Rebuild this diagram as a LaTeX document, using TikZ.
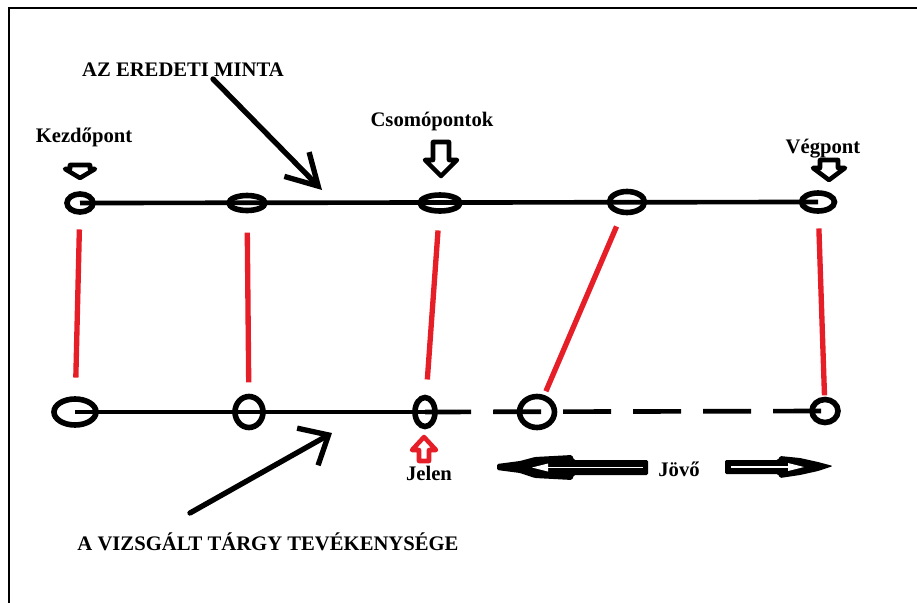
\documentclass[tikz,border=0pt]{standalone}
\usepackage{fontspec}
\setmainfont{Liberation Serif}
\usetikzlibrary{shapes.geometric,arrows.meta}
\definecolor{paintred}{RGB}{230,30,40}

\tikzset{
  ring/.style={ellipse, draw, line width=4.2pt, inner sep=0pt},
  timeline/.style={line width=3.5pt},
  dashline/.style={line width=3.5pt, dash pattern=on 36pt off 16.5pt, dash phase=1.5pt},
  redlink/.style={paintred, line width=4pt},
  pointer/.style={line width=4pt, line cap=round},
  lbl/.style={font=\bfseries\fontsize{15.5}{18}\selectfont, inner sep=0pt, anchor=base},
  blockarrow/.style={draw=black, fill=white, transform shape},
  pics/blockdown/.style args={#1/#2/#3/#4}{code={
    \draw[pic actions, line width=3.4pt, line join=round] (-#1,0) -- (#1,0) -- (#1,#2) -- (#3,#2) -- (0,{#2+#4}) -- (-#3,#2) -- (-#1,#2) -- cycle;
  }}
}

\begin{document}
\begin{tikzpicture}[x=0.75pt,y=0.75pt,yscale=-1,xscale=1]
\useasboundingbox (0,0) rectangle (917,603);

%frame
\draw[line width=1.5pt] (8.5,603) -- (8.5,8) -- (917,8);

%original pattern (top)
\node[ring, minimum width=19.5pt, minimum height=13.5pt] (t1) at (80,203) {};
\node[ring, minimum width=27pt, minimum height=11.25pt] (t2) at (247,203) {};
\node[ring, minimum width=30pt, minimum height=12pt] (t3) at (440,203) {};
\node[ring, minimum width=26.25pt, minimum height=15.75pt] (t4) at (627,202) {};
\node[ring, minimum width=24.75pt, minimum height=13.5pt] (t5) at (818,202) {};
\draw[timeline] (t1.center) -- (t5.center);

%examined activity (bottom)
\node[ring, minimum width=31.5pt, minimum height=19.5pt] (b1) at (75,412) {};
\node[ring, minimum width=21pt, minimum height=23.25pt] (b2) at (249,412) {};
\node[ring, minimum width=15pt, minimum height=21.75pt] (b3) at (425,412) {};
\node[ring, minimum width=26.25pt, minimum height=23.25pt] (b4) at (537,412) {};
\node[ring, minimum width=19.5pt, minimum height=17.25pt] (b5) at (825,411) {};
\draw[timeline] (b1.center) -- (b3.center);
\draw[dashline] (b3.center) -- (b5.center);

%red links
\draw[redlink, shorten <=11pt, shorten >=14pt] (t1) -- (b1);
\draw[redlink, shorten <=14.5pt, shorten >=8.5pt] (t2) -- (b2);
\draw[redlink, shorten <=12.5pt, shorten >=11.5pt] (t3) -- (b3);
\draw[redlink, shorten <=9.5pt, shorten >=3pt] (t4) -- (b4);
\draw[redlink, shorten <=11pt, shorten >=1pt] (t5) -- (b5);

%labels
\node[lbl] (minta) at (183,76) {AZ EREDETI MINTA};
\node[lbl] (kezd) at (84,142) {Kezdőpont};
\node[lbl] (csomo) at (432,126) {Csomópontok};
\node[lbl] (veg) at (823,153) {Végpont};
\node[lbl] (jelen) at (429,480) {Jelen};
\node[lbl] (jovo) at (679,476) {Jövő};
\node[lbl] (targy) at (268,550) {A VIZSGÁLT TÁRGY TEVÉKENYSÉGE};

%block arrows
\pic[blockarrow] at (80,165) {blockdown=10/4/15/9};
\pic[blockarrow] at (441,142) {blockdown=8/18/16/16};
\pic[blockarrow] at (829,160) {blockdown=9/8/16/12};
\pic[blockarrow, draw=paintred, yscale=-1] at (424,461) {blockdown=5/11/12/13};

%pointers
\coordinate (azfrom) at (213,79);
\coordinate (azto) at (322,190);
\draw[pointer, -{Straight Barb[length=23pt,width=26pt]}] (azfrom) -- (azto);
\coordinate (tfrom) at (190,513);
\coordinate (tto) at (332,433);
\draw[pointer, -{Straight Barb[length=18pt,width=32pt]}] (tfrom) -- (tto);

%future arrows
\fill[rounded corners=1pt] (497,464) -- (520,461) -- (535,457) -- (572,455) -- (574,460) -- (648,460) -- (648,475) -- (574,475) -- (572,480) -- (535,478) -- (520,473) -- (497,470) -- cycle;
\draw[white, line width=1pt] (538,467.5) -- (643,467.5);
\fill[white] (532,467.5) -- (548,463.5) -- (548,471.5) -- cycle;
\fill[rounded corners=1pt] (725,460) -- (778,460) -- (780,456) -- (800,458) -- (818,462) -- (833,466) -- (818,471) -- (800,475) -- (780,478) -- (778,474) -- (725,474) -- cycle;
\draw[white, line width=1pt] (731,467) -- (798,467);
\fill[white] (804,467) -- (788,463) -- (788,471) -- cycle;

\end{tikzpicture}
\end{document}
